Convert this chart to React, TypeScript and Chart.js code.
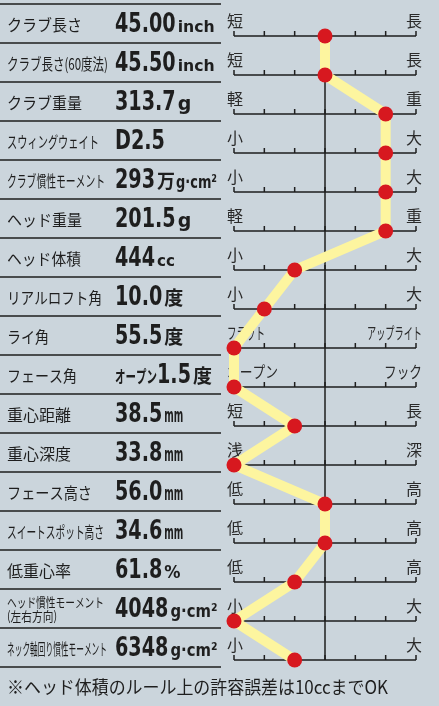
import { useEffect, useRef } from 'react';
import { Chart, registerables } from 'chart.js';

Chart.register(...registerables);

// ---------- data ----------
const itemLabels = [
  'クラブ長さ',
  'クラブ長さ(60度法)',
  'クラブ重量',
  'スウィングウェイト',
  'クラブ慣性モーメント',
  'ヘッド重量',
  'ヘッド体積',
  'リアルロフト角',
  'ライ角',
  'フェース角',
  '重心距離',
  '重心深度',
  'フェース高さ',
  'スイートスポット高さ',
  '低重心率',
  'ヘッド慣性モーメント\n(左右方向)',
  'ネック軸回り慣性モーメント',
];
const itemPrefixes = ['', '', '', '', '', '', '', '', '', 'オープン', '', '', '', '', '', '', ''];
const itemNumbers = ['45.00', '45.50', '313.7', 'D2.5', '293', '201.5', '444', '10.0', '55.5', '1.5', '38.5', '33.8', '56.0', '34.6', '61.8', '4048', '6348'];
const itemUnits = ['inch', 'inch', 'g', '', '万g·cm²', 'g', 'cc', '度', '度', '度', 'mm', 'mm', 'mm', 'mm', '%', 'g·cm²', 'g·cm²'];
const lowLabels = ['短', '短', '軽', '小', '小', '軽', '小', '小', 'フラット', 'オープン', '短', '浅', '低', '低', '低', '小', '小'];
const highLabels = ['長', '長', '重', '大', '大', '重', '大', '大', 'アップライト', 'フック', '長', '深', '高', '高', '高', '大', '大'];
const positions = [0, 0, 2, 2, 2, 2, -1, -2, -3, -3, -1, -3, 0, 0, -1, -3, -1];
const scaleTicks = [-3, -2, -1, 0, 1, 2, 3];
const footnote = '※ヘッド体積のルール上の許容誤差は10ccまでOK';

// ---------- styles ----------
const BG = '#cbd5dc';
const INK = '#1e1e1e';
const YELLOW = '#fdf59f';
const RED = '#d7181f';
const JP = "'Noto Sans CJK JP', 'Noto Sans', sans-serif";
const COND = "'DejaVu Sans Condensed', 'DejaVu Sans', sans-serif";
const labelMaxWidths = [75, 101, 75, 92, 98, 75, 74, 95, 42, 70, 66, 66, 85, 97, 66, 97, 100];
const endLabelMax: Record<string, number> = { 'フラット': 38, 'アップライト': 55, 'オープン': 51, 'フック': 38 };
const unitParts: Record<string, [string, string, number][]> = {
  inch: [['inch', "bold 16px 'DejaVu Sans', sans-serif", 37]],
  g: [['g', "bold 19px 'DejaVu Sans', sans-serif", 15]],
  cc: [['cc', "bold 16px 'DejaVu Sans', sans-serif", 18]],
  '度': [['度', `bold 19px ${JP}`, 19]],
  mm: [['mm', `bold 19px ${COND}`, 19]],
  '%': [['%', `bold 18px ${COND}`, 19]],
  'g·cm²': [['g·cm²', `bold 18px ${COND}`, 47]],
  '万g·cm²': [['万', `bold 19px ${JP}`, 18], ['g·cm²', `bold 18px ${COND}`, 41]],
};

function fit(ctx: CanvasRenderingContext2D, text: string, x: number, y: number, maxW?: number) {
  const w = ctx.measureText(text).width;
  if (maxW !== undefined && w > maxW) {
    ctx.fillText(text, x, y, maxW);
    return maxW;
  }
  ctx.fillText(text, x, y);
  return w;
}

const tablePlugin = {
  id: 'specTable',
  beforeDraw(chart: any) {
    const ctx = chart.ctx as CanvasRenderingContext2D;
    ctx.save();
    ctx.fillStyle = BG;
    ctx.fillRect(0, 0, chart.width, chart.height);
    ctx.restore();
  },
  beforeDatasetsDraw(chart: any) {
    const ctx = chart.ctx as CanvasRenderingContext2D;
    const xs = chart.scales.x;
    const ys = chart.scales.y;
    const n = itemLabels.length;
    const x0 = xs.getPixelForValue(scaleTicks[0]);
    const x1 = xs.getPixelForValue(scaleTicks[scaleTicks.length - 1]);
    const xc = xs.getPixelForValue(0);
    ctx.save();
    ctx.strokeStyle = INK;
    ctx.fillStyle = INK;
    ctx.lineWidth = 1.5;

    // left table separators
    for (let i = 0; i <= n; i++) {
      const y = i < n ? ys.getPixelForValue(i) - 32 : ys.getPixelForValue(n - 1) + 7;
      ctx.beginPath();
      ctx.moveTo(0, y);
      ctx.lineTo(221, y);
      ctx.stroke();
    }

    // center vertical line
    ctx.beginPath();
    ctx.moveTo(xc, ys.getPixelForValue(0));
    ctx.lineTo(xc, ys.getPixelForValue(n - 1));
    ctx.stroke();

    for (let i = 0; i < n; i++) {
      const ay = ys.getPixelForValue(i);
      const top = ay - 32;
      // ruler
      ctx.beginPath();
      ctx.moveTo(x0, ay);
      ctx.lineTo(x1, ay);
      for (const t of scaleTicks) {
        const tx = xs.getPixelForValue(t);
        ctx.moveTo(tx, ay);
        ctx.lineTo(tx, ay - 5);
      }
      ctx.stroke();

      // end labels
      ctx.font = `16px ${JP}`;
      ctx.fillStyle = '#2a2a2a';
      ctx.textBaseline = 'alphabetic';
      ctx.textAlign = 'left';
      fit(ctx, lowLabels[i], 227, top + 23, endLabelMax[lowLabels[i]]);
      ctx.textAlign = 'right';
      fit(ctx, highLabels[i], 422, top + 23, endLabelMax[highLabels[i]]);

      // item label
      ctx.textAlign = 'left';
      ctx.fillStyle = INK;
      const lines = itemLabels[i].split('\n');
      if (lines.length > 1) {
        ctx.font = `13px ${JP}`;
        fit(ctx, lines[0], 7, top + 18, labelMaxWidths[i]);
        fit(ctx, lines[1], 7, top + 32, 50);
      } else {
        ctx.font = `16px ${JP}`;
        fit(ctx, lines[0], 7, top + 27, labelMaxWidths[i]);
      }

      // value
      let vx = 115;
      const base = top + 28;
      if (itemPrefixes[i]) {
        ctx.font = `bold 17px ${JP}`;
        vx += fit(ctx, itemPrefixes[i], vx, base, 42);
      }
      ctx.font = `bold 26px ${COND}`;
      const nw = ctx.measureText(itemNumbers[i]).width * 0.82;
      ctx.fillText(itemNumbers[i], vx, base, nw);
      vx += nw + 2;
      const parts = unitParts[itemUnits[i]] || [];
      for (const [txt, font, mw] of parts) {
        ctx.font = font;
        vx += fit(ctx, txt, vx, base, mw) + 1;
      }
    }

    // footnote
    ctx.textAlign = 'left';
    ctx.fillStyle = INK;
    ctx.font = `18px ${JP}`;
    fit(ctx, footnote, 7, 694, 381);
    ctx.restore();
  },
};

export default function App() {
  const ref = useRef<HTMLCanvasElement>(null);
  useEffect(() => {
    document.body.style.margin = '0';
    const chart = new Chart(ref.current as HTMLCanvasElement, {
      type: 'line',
      data: {
        datasets: [
          {
            data: positions.map((p, i) => ({ x: p, y: i })),
            borderColor: YELLOW,
            borderWidth: 10,
            borderJoinStyle: 'round',
            borderCapStyle: 'round',
            tension: 0,
            pointRadius: 7.5,
            pointBackgroundColor: RED,
            pointBorderColor: RED,
            pointBorderWidth: 0,
            clip: false as any,
          },
        ],
      },
      options: {
        animation: false,
        responsive: false,
        devicePixelRatio: 1,
        layout: { padding: { left: 234, right: 23, top: 36, bottom: 46 } },
        scales: {
          x: { type: 'linear', min: -3, max: 3, display: false },
          y: { type: 'linear', min: 0, max: itemLabels.length - 1, reverse: true, display: false },
        },
        plugins: { legend: { display: false }, tooltip: { enabled: false } },
      },
      plugins: [tablePlugin],
    });
    return () => chart.destroy();
  }, []);
  return (
    <div style={{ position: 'absolute', left: 0, top: 0, width: 439, height: 706, background: BG }}>
      <canvas ref={ref} width={439} height={706} style={{ display: 'block', width: 439, height: 706 }} />
    </div>
  );
}
